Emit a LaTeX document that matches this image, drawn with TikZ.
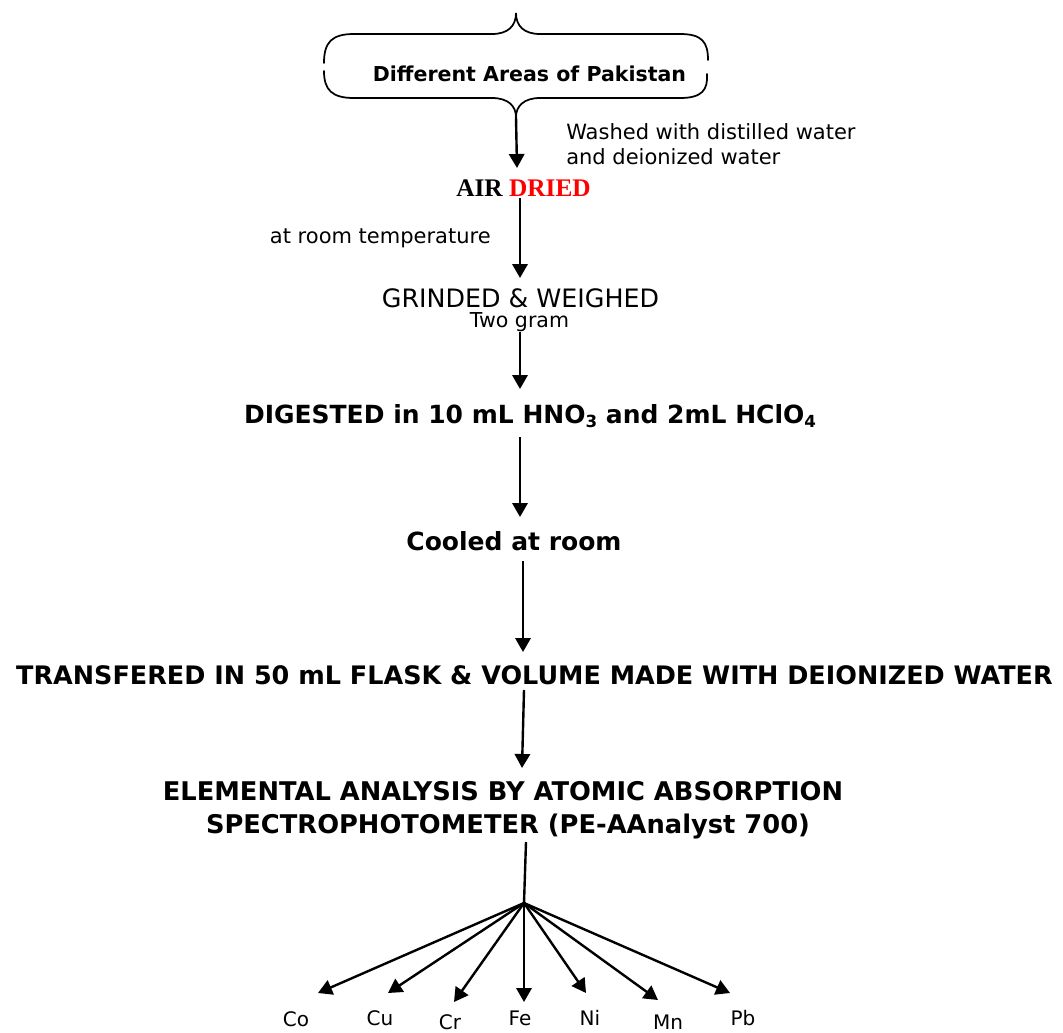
\documentclass[tikz,border=0pt]{standalone}
\usepackage{fontspec}
\setmainfont{DejaVu Sans}
\newfontfamily\timesfont{Liberation Serif}
\usetikzlibrary{arrows.meta,calc}
\newcommand\subs[1]{\raisebox{-3.5pt}{\fontsize{12.5pt}{12.5pt}\selectfont #1}}
\begin{document}
\begin{tikzpicture}[x=0.75pt,y=-0.75pt,
  txt/.style={inner sep=0pt, anchor=base},
  reg/.style={txt, font=\fontsize{15.75pt}{19pt}\selectfont},
  boldtxt/.style={txt, font=\fontsize{18.75pt}{22pt}\selectfont\bfseries},
  lbl/.style={txt, font=\fontsize{15pt}{18pt}\selectfont},
  arr/.style={line width=1.8pt, -{Triangle[width=11.5pt,length=10.5pt]}},
  plainline/.style={line width=1.8pt},
  brace/.style={line width=1.3pt, line cap=round}]
\useasboundingbox (0,0) rectangle (1063,1032);

% brace around the source
\draw[brace] (324,63) .. controls (324,42) and (332,34) .. (354,34) -- (492,34)
  .. controls (508,34) and (516,26) .. (516,13)
  .. controls (516,26) and (524,34) .. (540,34) -- (680,34)
  .. controls (702,34) and (708,42) .. (708,60);
\draw[brace] (324,71) .. controls (324,90) and (332,98) .. (354,98) -- (492,98)
  .. controls (508,98) and (516,106) .. (516,117)
  .. controls (516,106) and (524,98) .. (540,98) -- (680,98)
  .. controls (702,98) and (708,90) .. (707,74);
\coordinate (bracetip) at (516,117);

\node[txt, font=\fontsize{15.4pt}{18pt}\selectfont\bfseries] (areas) at (529.5,81) {Different Areas of Pakistan};
\node[reg, anchor=base west] (washA) at (566,139) {Washed with distilled water};
\node[reg, anchor=base west] (washB) at (566,164) {and deionized water};
\node[txt, font=\timesfont\bfseries\fontsize{19pt}{22pt}\selectfont] (dried) at (523.5,196) {AIR \textcolor{red}{DRIED}};
\node[reg, anchor=base east] (roomtemp) at (491,243) {at room temperature};
\node[txt, font=\fontsize{19pt}{22pt}\selectfont] (grind) at (520.5,307) {GRINDED \& WEIGHED};
\node[txt, font=\fontsize{15.4pt}{18pt}\selectfont] (twog) at (519.5,327) {Two gram};
\node[boldtxt] (digest) at (530,423) {DIGESTED in 10 mL HNO\subs{3} and 2mL HClO\subs{4}};
\node[boldtxt] (cool) at (514,550) {Cooled at room};
\node[boldtxt, font=\fontsize{19.1pt}{22pt}\selectfont\bfseries] (transf) at (534.5,684) {TRANSFERED IN 50 mL FLASK \& VOLUME MADE WITH DEIONIZED WATER};
\node[boldtxt, font=\fontsize{19.3pt}{22pt}\selectfont\bfseries] (elemA) at (503,800) {ELEMENTAL ANALYSIS BY ATOMIC ABSORPTION};
\node[boldtxt, font=\fontsize{19.3pt}{22pt}\selectfont\bfseries] (elemB) at (508,833) {SPECTROPHOTOMETER (PE-AAnalyst 700)};

\node[lbl] (co) at (296,1026) {Co};
\node[lbl] (cu) at (380,1025) {Cu};
\node[lbl] (cr) at (450,1029) {Cr};
\node[lbl] (fe) at (520,1025) {Fe};
\node[lbl] (ni) at (590,1025) {Ni};
\node[lbl] (mn) at (668,1029) {Mn};
\node[lbl] (pb) at (743,1025) {Pb};

% main flow
\draw[arr] (bracetip) -- ($(dried.base)+(-6.5,-28)$);
\draw[arr] ($(dried.base)+(-3.5,2)$) -- ($(grind.base)+(-0.5,-29)$);
\draw[arr] ($(twog.base)+(0.5,5)$) -- ($(digest.base)+(-10,-34)$);
\draw[arr] ($(digest.base)+(-10,14)$) -- ($(cool.base)+(6,-33)$);
\draw[arr] ($(cool.base)+(9,11)$) -- ($(transf.base)+(-11.5,-32)$);
\draw[arr] ($(transf.base)+(-10.5,6)$) -- ($(elemA.base)+(19,-32)$);
\coordinate (hub) at (524,903);
\draw[plainline] ($(elemB.base)+(18,9)$) -- (hub);

% fan to the elements
\draw[arr] (hub) -- ($(co.base)+(22,-33)$);
\draw[arr] (hub) -- ($(cu.base)+(8,-32)$);
\draw[arr] (hub) -- ($(cr.base)+(4,-27)$);
\draw[arr] (hub) -- ($(fe.base)+(4,-23)$);
\draw[arr] (hub) -- ($(ni.base)+(-4,-32)$);
\draw[arr] (hub) -- ($(mn.base)+(-10,-29)$);
\draw[arr] (hub) -- ($(pb.base)+(-13,-32)$);
\end{tikzpicture}
\end{document}
